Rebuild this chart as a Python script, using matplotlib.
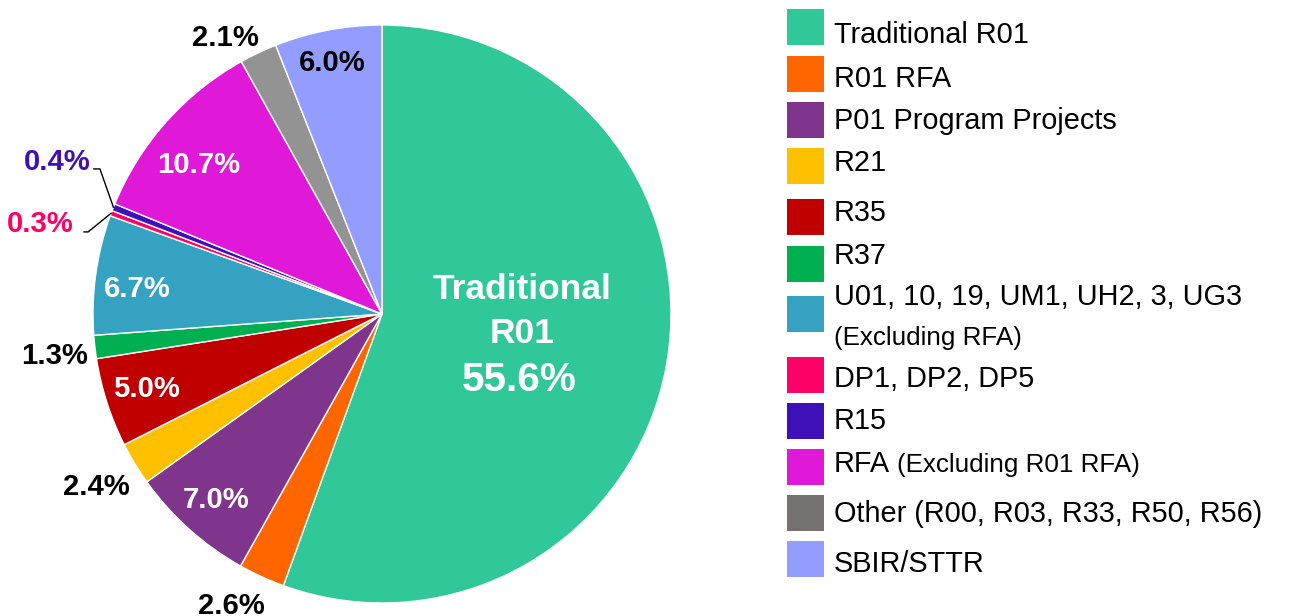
import matplotlib
matplotlib.use("Agg")
import matplotlib.pyplot as plt
from matplotlib.patches import Rectangle
import numpy as np

plt.rcParams['font.family'] = ['Liberation Sans', 'DejaVu Sans']

categories = ["Traditional R01", "R01 RFA", "P01 Program Projects", "R21", "R35", "R37",
              "U01, 10, 19, UM1, UH2, 3, UG3", "DP1, DP2, DP5", "R15", "RFA",
              "Other (R00, R03, R33, R50, R56)", "SBIR/STTR"]
values = [55.6, 2.6, 7.0, 2.4, 5.0, 1.3, 6.7, 0.3, 0.4, 10.7, 2.1, 6.0]
pct_labels = ["55.6%", "2.6%", "7.0%", "2.4%", "5.0%", "1.3%", "6.7%", "0.3%", "0.4%",
              "10.7%", "2.1%", "6.0%"]
wedge_colors = ["#30C898", "#FF6600", "#7F358C", "#FFC000", "#C00000", "#00B050",
                "#36A2C2", "#FF0066", "#3D10B8", "#E018D8", "#939393", "#939DFF"]
legend_colors = ["#30C898", "#FF6600", "#7F358C", "#FFC000", "#C00000", "#00B050",
                 "#36A2C2", "#FF0066", "#3D10B8", "#E018D8", "#767171", "#939DFF"]
label_colors = ["white", "black", "white", "black", "white", "black", "white",
                "#FF0066", "#3D10B8", "white", "black", "black"]

W, H = 1301, 616
fig = plt.figure(figsize=(W / 100, H / 100), dpi=100)

# pie axes: centre (382,314) px, radius 289 px
cx, cy, R = 382, 314, 289
ax = fig.add_axes([(cx - R) / W, (H - cy - R) / H, 2 * R / W, 2 * R / H])
wedges, _ = ax.pie(values, colors=wedge_colors, startangle=90, counterclock=False,
                   radius=1.0, wedgeprops=dict(edgecolor="white", linewidth=1.0))
ax.set_xlim(-1, 1)
ax.set_ylim(-1, 1)
ax.set_aspect("equal")
ax.axis("off")

fs_lab = 21.1
cap_half = 0.716 * fs_lab * 100 / 72 / 2 / R  # data units

# label radius and angle offset (layout)
lab_r = [None, 1.13, 0.857, 1.149, 0.853, 1.141, 0.854, None, None, 0.823, 1.105, 0.893]
lab_dang = [0, -2.9, -0.3, -0.4, -0.9, 0.3, 1.35, 0, 0, 2.0, 4.1, 0.4]

for i, w in enumerate(wedges):
    mid = (w.theta1 + w.theta2) / 2
    if i == 0:
        x = (522 - cx) / R
        ax.text(x, (cy - 299) / R, "Traditional", ha="center", va="baseline",
                fontsize=25.5, fontweight="bold", color="white")
        ax.text(x, (cy - 343) / R, "R01", ha="center", va="baseline",
                fontsize=25.5, fontweight="bold", color="white")
        ax.text((519.5 - cx) / R, (cy - 391) / R, pct_labels[0], ha="center", va="baseline",
                fontsize=29.2, fontweight="bold", color="white")
        continue
    if lab_r[i] is None:
        continue
    a = np.deg2rad(mid + lab_dang[i])
    x, y = lab_r[i] * np.cos(a), lab_r[i] * np.sin(a)
    ax.text(x, y - cap_half, pct_labels[i], ha="center", va="baseline",
            fontsize=fs_lab, fontweight="bold", color=label_colors[i])

# small slices with leader lines
small = {7: ((-1.017, 0.284), (-1.031, 0.284), (40.5, 222)),
         8: ((-0.976, 0.502), (-0.997, 0.502), (57.5, 160))}
for i, (elbow, end, (tx, ty)) in small.items():
    w = wedges[i]
    mid = np.deg2rad((w.theta1 + w.theta2) / 2)
    p0 = (np.cos(mid), np.sin(mid))
    ax.plot([p0[0], elbow[0], end[0]], [p0[1], elbow[1], end[1]], color="black",
            lw=1.0, clip_on=False)
    ax.text((tx - cx) / R, (cy - ty) / R - cap_half, pct_labels[i], ha="center",
            va="baseline", fontsize=fs_lab, fontweight="bold", color=label_colors[i])

# legend drawn in pixel coordinates
lax = fig.add_axes([0, 0, 1, 1])
lax.set_xlim(0, W)
lax.set_ylim(H, 0)
lax.axis("off")

sq_top = [9, 56, 102, 148, 199, 246, 296, 357, 403, 449, 495, 541]
baselines = [43, 87, 129, 171, 221, 264, 305, 387, 429, 472, 522, 572]
fs_leg = 20.8
fs_small = 18.7
for i, cat in enumerate(categories):
    lax.add_patch(Rectangle((787, sq_top[i]), 37, 36, facecolor=legend_colors[i],
                            edgecolor="none"))
    lax.text(834, baselines[i], cat, ha="left", va="baseline", fontsize=fs_leg,
             color="black")
    if i == 6:
        lax.text(834, 345, "(Excluding RFA)", ha="left", va="baseline",
                 fontsize=fs_small, color="black")
    if i == 9:
        lax.text(897, baselines[i], "(Excluding R01 RFA)", ha="left", va="baseline",
                 fontsize=fs_small, color="black")

fig.savefig("out.png", dpi=100, facecolor="white")
